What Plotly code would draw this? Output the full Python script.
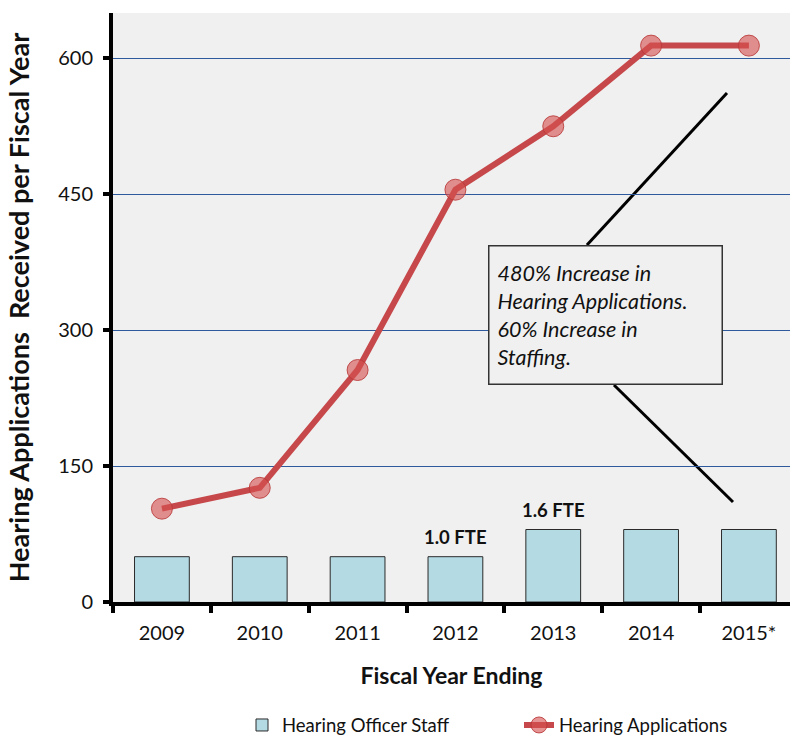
import plotly.graph_objects as go

# Fiscal years and series values
years = ["2009", "2010", "2011", "2012", "2013", "2014", "2015*"]
applications = [103, 126, 256, 455, 525, 614, 614]
staff_fte = [1.0, 1.0, 1.0, 1.0, 1.6, 1.6, 1.6]
fte_labeled_years = ["2012", "2013"]
y_ticks = [0, 150, 300, 450, 600]

FONT = "Lato"

fig = go.Figure()

fig.add_trace(go.Bar(
    x=years, y=staff_fte, name="Hearing Officer Staff", yaxis="y2",
    width=0.56, legend="legend",
    marker=dict(color="#B4DAE3", line=dict(color="#2a2a2a", width=1)),
))

fig.add_trace(go.Scatter(
    x=years, y=applications, name="Hearing Applications",
    mode="lines+markers", legend="legend2",
    line=dict(color="#C6484A", width=6),
    marker=dict(size=21, color="rgba(215,80,80,0.62)",
                line=dict(color="rgba(185,55,55,0.85)", width=1)),
))

# FTE labels above the staffing bars
for i, (yr, fte) in enumerate(zip(years, staff_fte)):
    if yr in fte_labeled_years:
        fig.add_annotation(
            x=i, y=fte, xref="x", yref="y2", yanchor="bottom", yshift=7,
            text=f"{fte:.1f} FTE", showarrow=False,
            font=dict(family=FONT, size=18.5, color="#111111", weight="bold"),
        )

# Callout box with leader lines
fig.add_annotation(
    xref="paper", yref="paper", x=0.554, y=0.6061, xanchor="left", yanchor="top",
    text="480% Increase in<br>Hearing Applications.<br>60% Increase in<br>Staffing.",
    showarrow=False, align="left", width=216, height=121,
    font=dict(family=FONT, size=21.5, color="#111111", style="italic"),
    bgcolor="#F0F0F0", bordercolor="#333333", borderwidth=1.5, borderpad=8,
    valign="middle",
)
fig.add_shape(type="line", xref="paper", yref="paper",
              x0=0.7001, y0=0.6061, x1=0.9069, y1=0.8642,
              line=dict(color="black", width=3), layer="below")
fig.add_shape(type="line", xref="paper", yref="paper",
              x0=0.7400, y0=0.3684, x1=0.9158, y1=0.1698,
              line=dict(color="black", width=3), layer="below")

legend_style = dict(orientation="h", xref="container", yref="container",
                    xanchor="left", yanchor="middle", y=0.017,
                    font=dict(family=FONT, size=18.5), bgcolor="rgba(0,0,0,0)")

fig.update_layout(
    width=790, height=738,
    margin=dict(l=113, r=0, t=13, b=136, autoexpand=False),
    paper_bgcolor="white", plot_bgcolor="#F0F0F0",
    font=dict(family=FONT, size=20, color="#111111"),
    xaxis=dict(
        type="category", range=[-0.5, 6.42],
        showline=True, linecolor="black", linewidth=4,
        ticks="outside", tickson="boundaries", ticklen=7, tickwidth=4,
        tickcolor="black", showgrid=False,
        ticklabelstandoff=10,
        tickfont=dict(family=FONT, size=20),
        title=dict(text="Fiscal Year Ending", standoff=26,
                   font=dict(family=FONT, size=23, weight="bold")),
    ),
    yaxis=dict(
        range=[0, 650], tickvals=y_ticks,
        showline=True, linecolor="black", linewidth=4,
        ticks="outside", ticklen=6, tickwidth=4, tickcolor="black",
        showgrid=True, gridcolor="#2E5A9C", gridwidth=1, zeroline=False,
        ticklabelstandoff=6,
        tickfont=dict(family=FONT, size=20),
        title=dict(text="Hearing Applications  Received per Fiscal Year",
                   standoff=22,
                   font=dict(family=FONT, size=27, weight="bold")),
    ),
    yaxis2=dict(range=[0, 13], overlaying="y", showticklabels=False,
                showgrid=False, showline=False, zeroline=False, ticks=""),
    legend=dict(legend_style, x=(252 - 10) / 790),
    legend2=dict(legend_style, x=(529 - 10) / 790),
    showlegend=True,
)

fig.write_html("out.html")
